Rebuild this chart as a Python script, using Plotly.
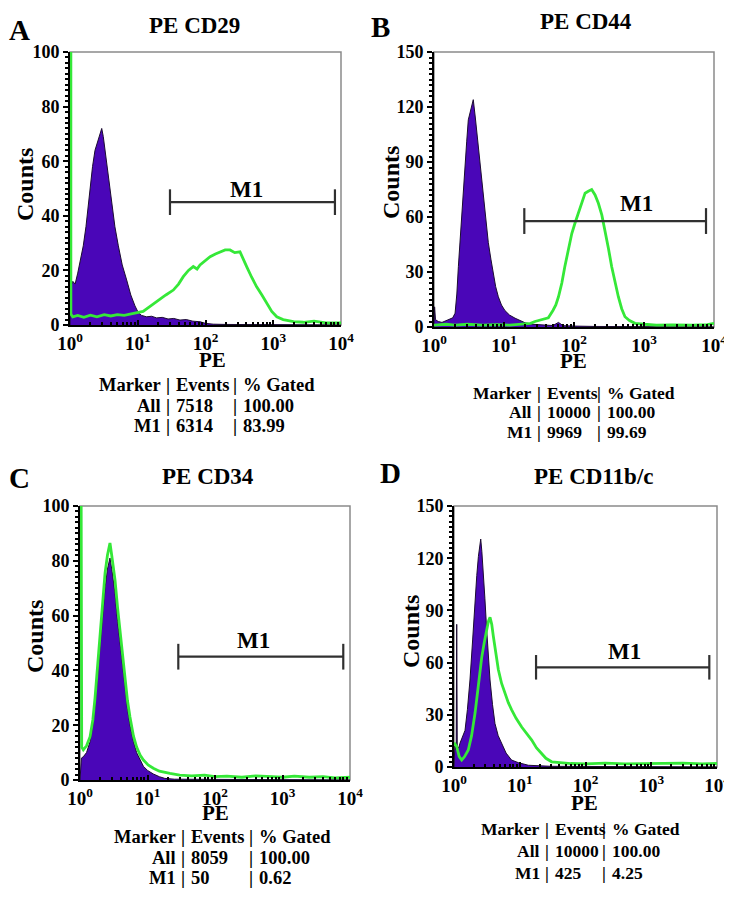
import plotly.graph_objects as go

W, H = 732, 916
OFF = 8  # the page body margin that the browser adds around the figure
FONT = "Liberation Serif"
PURPLE = "#4a06b8"
GREEN = "#35e838"

# ---------------- data ----------------
x_ticks = [1, 10, 100, 1000, 10000]
x_tick_labels = ["10<sup>0</sup>", "10<sup>1</sup>", "10<sup>2</sup>", "10<sup>3</sup>", "10<sup>4</sup>"]

# Panel A  PE CD29
pe_purple_A = [1.00, 1.02, 1.10, 1.19, 1.30, 1.42, 1.57, 1.72, 1.85, 1.97, 2.15, 2.34, 2.55, 2.75, 2.94,
               3.10, 3.25, 3.48, 3.75, 4.12, 4.6, 5.17, 5.9, 6.86, 7.9, 9.1, 10.2, 11.4, 13.5, 16, 19,
               23, 28, 34, 42, 52, 65, 83, 100, 130, 200, 10000]
cnt_purple_A = [0, 14, 16, 15, 19, 24, 29, 36, 44, 51, 58, 64, 67, 69, 72,
                69, 65, 60, 53, 45, 36, 29, 22, 16.5, 11, 7, 4.5, 3.5, 3.0, 3.2, 2.6,
                2.8, 2.2, 2.4, 1.8, 2.0, 1.4, 1.2, 0.6, 0.3, 0.2, 0.0]
pe_green_A = [1.03, 1.03, 1.1, 1.3, 1.6, 2.0, 2.5, 3.2, 4.0, 5.0, 6.3, 8.0, 10, 12, 14.5, 17.5, 21, 26,
              33.5, 40, 47, 56, 66, 75, 83, 100, 117, 140, 163, 195, 230, 270, 323, 360, 405, 480,
              569, 680, 800, 950, 1127, 1400, 1990, 2800, 4000, 6000, 10000]
cnt_green_A = [105, 4, 3, 3.5, 2.8, 3.6, 3.0, 3.8, 3.3, 3.8, 3.5, 4.0, 4.5, 5.0, 6.5, 8.0, 9.2, 11,
               12.8, 15, 17.7, 20, 21.4, 20.5, 22, 23.5, 25, 26, 26.8, 27.5, 27.5, 26.5, 26.8, 24, 21.4, 17.5,
               14, 11, 8, 5, 3, 2, 1.2, 1.0, 1.4, 0.8, 0.8]
gate_A = [29.9, 8140, 45]
stats_A = [["Marker", "Events", "% Gated"], ["All", "7518", "100.00"], ["M1", "6314", "83.99"]]

# Panel B  PE CD44
pe_purple_B = [1.0, 1.02, 1.05, 1.15, 1.3, 1.5, 1.7, 1.85, 2.0, 2.12, 2.23, 2.35, 2.48, 2.62, 2.77, 2.93,
               3.09, 3.3, 3.5, 3.64, 3.9, 4.3, 4.65, 5.07, 5.5, 5.97, 6.5, 7.04, 7.6, 8.3, 9.2, 10.3,
               12, 14.4, 17, 20, 25, 35, 50, 60, 70, 100, 200, 10000]
cnt_purple_B = [0, 11, 4, 3, 2.5, 3.5, 4, 5, 7.5, 18, 33, 47, 62, 76, 89, 101,
                113, 118, 122, 124, 114, 98, 83, 69, 57, 46, 37, 29.4, 22, 16.5, 12, 9,
                6.5, 4.8, 3.5, 2.3, 1.5, 1, 0.8, 2.5, 0.7, 0.5, 0.3, 0]
pe_green_B = [1.0, 1.5, 2, 3, 5, 8, 12, 18, 24, 27.7, 35, 43, 50, 55, 60, 67, 74, 83, 93, 104, 115, 130,
              144, 160, 179, 200, 223, 250, 277, 310, 345, 385, 430, 480, 535, 620, 745, 1000, 1500,
              2500, 5000, 8000, 10000]
cnt_green_B = [1, 1.5, 1, 1.5, 1, 1.3, 1, 1.5, 2, 3, 4, 5, 9, 12, 16.5, 24, 33, 42, 51, 57, 62, 68,
               73, 74, 75, 72, 67.5, 61, 53, 43, 33, 24, 16.5, 10, 5.6, 3.5, 2, 1.5, 1,
               1.2, 1, 1.3, 2]
gate_B = [19.5, 7690, 57.8]
stats_B = [["Marker", "Events", "% Gated"], ["All", "10000", "100.00"], ["M1", "9969", "99.69"]]

# Panel C  PE CD34
pe_purple_C = [1.0, 1.05, 1.12, 1.25, 1.41, 1.55, 1.67, 1.82, 1.98, 2.15, 2.35, 2.55, 2.78, 3.0, 3.3,
               3.6, 3.9, 4.25, 4.64, 5.05, 5.5, 6.2, 6.9, 7.8, 8.7, 10, 12.2, 15, 18, 25, 10000]
cnt_purple_C = [0, 8, 8.5, 10, 14, 20, 27, 38, 50, 61, 70, 77, 81, 76, 68,
                58, 50, 41, 33, 26, 20, 14, 10, 7, 5, 3.5, 2.2, 1.2, 0.6, 0.3, 0]
pe_green_C = [1.04, 1.04, 1.06, 1.12, 1.25, 1.41, 1.55, 1.67, 1.82, 1.98, 2.15, 2.35, 2.55, 2.78, 2.95,
              3.1, 3.3, 3.6, 3.9, 4.25, 4.64, 5.05, 5.5, 6.2, 6.9, 7.8, 8.7, 10.2, 12.2, 15, 21.5,
              30, 45, 70, 100, 150, 250, 400, 700, 1000, 1500, 2500, 4000, 6000, 10000]
cnt_green_C = [105, 14, 12, 11, 12.5, 15.8, 22, 30, 42, 55, 66, 75.5, 82, 86.5, 82,
               78, 73, 63, 55, 45, 36.5, 29, 23, 16, 12, 9, 7.3, 5.5, 4.3, 3.2, 2.4,
               1.8, 1.5, 1.8, 1.2, 1.4, 1.0, 1.5, 1.2, 1.0, 1.4, 1.0, 1.2, 0.8, 1.0]
gate_C = [28.6, 7950, 45]
stats_C = [["Marker", "Events", "% Gated"], ["All", "8059", "100.00"], ["M1", "50", "0.62"]]

# Panel D  PE CD11b/c
pe_purple_D = [1.0, 1.03, 1.08, 1.1, 1.12, 1.18, 1.23, 1.35, 1.47, 1.6, 1.75, 1.92, 2.09, 2.22, 2.35,
               2.45, 2.55, 2.65, 2.79, 2.95, 3.14, 3.33, 3.53, 3.85, 4.2, 4.7, 5.3, 6.2, 7.5, 9.5,
               13.5, 20, 30, 10000]
cnt_purple_D = [0, 12, 10, 82, 12, 11, 13.6, 17, 21, 33, 50, 73, 98, 110, 121,
                127, 131, 124, 113, 97, 79, 63, 50, 36, 25, 18, 13.6, 8, 4, 2.5,
                1, 0.6, 0.4, 0]
pe_green_D = [1.0, 1.1, 1.2, 1.31, 1.45, 1.65, 1.85, 2.09, 2.35, 2.64, 2.9, 3.14, 3.35, 3.53, 3.75,
              3.97, 4.3, 4.72, 5.3, 5.97, 6.7, 7.5, 8.8, 10.7, 12.8, 15.2, 18, 21.6, 25, 30.6, 40,
              60, 100, 200, 400, 800, 1500, 3000, 6000, 10000]
cnt_green_D = [14, 11.7, 6, 4, 6, 9.8, 18, 31, 47, 63, 72, 79, 84, 86, 82,
               75, 65, 56, 48, 42, 37, 33, 28, 23, 19, 15.5, 11, 7.9, 5, 3, 2.5,
               2, 1.8, 2.2, 1.8, 2.0, 1.8, 2.2, 1.8, 2.0]
gate_D = [17.7, 7640, 57.3]
stats_D = [["Marker", "Events", "% Gated"], ["All", "10000", "100.00"], ["M1", "425", "4.25"]]


def fx(px):
    return (px - OFF) / W


def fy(py):
    return 1 - (py - OFF) / H


# ---------------- layout configuration (pixel positions) ----------------
panels = [
    dict(letter="A", title="PE CD29", box=(70, 341, 52, 325), ymax=100, ydt=20,
         px=pe_purple_A, py=cnt_purple_A, gx=pe_green_A, gy=cnt_green_A, gate=gate_A,
         m1=(247, 189), letter_pos=(19, 30), title_pos=(194, 25), counts=(25, 185), pe=(213, 360),
         stats=stats_A, sy=(385, 406, 426), bars=(168, 235), ssize=18.5),
    dict(letter="B", title="PE CD44", box=(434, 714, 52, 327), ymax=150, ydt=30,
         px=pe_purple_B, py=cnt_purple_B, gx=pe_green_B, gy=cnt_green_B, gate=gate_B,
         m1=(636, 204), letter_pos=(381, 27), title_pos=(586, 21), counts=(391, 183), pe=(573, 361),
         stats=stats_B, sy=(393, 412, 432), bars=(539, 599), ssize=17.5),
    dict(letter="C", title="PE CD34", box=(80, 350, 506, 780), ymax=100, ydt=20,
         px=pe_purple_C, py=cnt_purple_C, gx=pe_green_C, gy=cnt_green_C, gate=gate_C,
         m1=(253, 640), letter_pos=(19, 478), title_pos=(208, 477), counts=(35, 637), pe=(215, 813),
         stats=stats_C, sy=(837, 858, 878), bars=(183, 251), ssize=18.5),
    dict(letter="D", title="PE CD11b/c", box=(454, 717, 506, 767), ymax=150, ydt=30,
         px=pe_purple_D, py=cnt_purple_D, gx=pe_green_D, gy=cnt_green_D, gate=gate_D,
         m1=(624, 651), letter_pos=(390, 473), title_pos=(593, 477), counts=(411, 632), pe=(584, 803),
         stats=stats_D, sy=(829, 851, 873), bars=(547, 604), ssize=17.5),
]

fig = go.Figure()
annotations = []
shapes = []
minor_x = [m * 10 ** k for k in range(4) for m in range(2, 10)]
xtickfont = dict(family=FONT, size=19, color="black", weight="bold")
ytickfont = dict(family=FONT, size=18, color="black", weight="bold")

for i, p in enumerate(panels):
    n = "" if i == 0 else str(i + 1)
    xa, ya = "x" + n, "y" + n
    l, r, t, b = p["box"]

    fig.add_trace(go.Scatter(x=p["px"], y=p["py"], mode="lines", fill="tozeroy", fillcolor=PURPLE,
                             line=dict(color="#1b0b30", width=1), xaxis=xa, yaxis=ya, hoverinfo="skip"))
    fig.add_trace(go.Scatter(x=p["gx"], y=p["gy"], mode="lines",
                             line=dict(color=GREEN, width=2.8), xaxis=xa, yaxis=ya, hoverinfo="skip"))

    g0, g1, gyv = p["gate"]
    hh = p["ymax"] * 0.047
    fig.add_trace(go.Scatter(x=[g0, g1, None, g0, g0, None, g1, g1],
                             y=[gyv, gyv, None, gyv - hh, gyv + hh, None, gyv - hh, gyv + hh],
                             mode="lines", line=dict(color="#303030", width=2.2), xaxis=xa, yaxis=ya,
                             hoverinfo="skip"))

    fig.layout["xaxis" + n] = dict(
        domain=[fx(l), fx(r)], anchor=ya, type="log", range=[0, 4], automargin=False,
        tickmode="array", tickvals=x_ticks, ticktext=x_tick_labels,
        ticks="inside", ticklen=5, tickwidth=1.5, tickcolor="black",
        minor=dict(tickmode="array", tickvals=minor_x, ticks="inside", ticklen=3, tickcolor="black"),
        showline=True, linecolor="black", linewidth=2, showgrid=False, zeroline=False,
        tickfont=xtickfont, fixedrange=True)
    fig.layout["yaxis" + n] = dict(
        domain=[fy(b), fy(t)], anchor=xa, range=[0, p["ymax"]], automargin=False,
        tickmode="linear", tick0=0, dtick=p["ydt"],
        ticks="outside", ticklen=5, tickwidth=1.5, tickcolor="black",
        minor=dict(dtick=p["ydt"] / 10, ticks="outside", ticklen=3, tickcolor="black"),
        showline=True, linecolor="black", linewidth=2, showgrid=False, zeroline=False,
        tickfont=ytickfont, fixedrange=True)

    shapes.append(dict(type="rect", xref=xa + " domain", yref=ya + " domain", x0=0, x1=1, y0=0, y1=1,
                       line=dict(color="#8a8a8a", width=1.5), layer="below"))

    def ann(text, xpx, ypx, size, xanchor="center", angle=0):
        annotations.append(dict(text=text, x=fx(xpx), y=fy(ypx), xref="paper", yref="paper",
                                showarrow=False, xanchor=xanchor, yanchor="middle", textangle=angle,
                                font=dict(family=FONT, size=size, color="black", weight="bold")))

    ann(p["letter"], p["letter_pos"][0], p["letter_pos"][1], 29)
    ann(p["title"], p["title_pos"][0], p["title_pos"][1], 23)
    ann("Counts", p["counts"][0], p["counts"][1], 24, angle=-90)
    ann("PE", p["pe"][0], p["pe"][1], 21)
    ann("M1", p["m1"][0], p["m1"][1], 23)

    b1, b2 = p["bars"]
    s = p["ssize"]
    for row, yy in zip(p["stats"], p["sy"]):
        ann(row[0], b1 - 5, yy, s, xanchor="right")
        ann("|", b1, yy, s)
        ann(row[1], b1 + 6, yy, s, xanchor="left")
        ann("|", b2, yy, s)
        ann(row[2], b2 + 6, yy, s, xanchor="left")

fig.update_layout(width=W, height=H, autosize=False,
                  margin=dict(l=0, r=0, t=0, b=0, pad=0, autoexpand=False),
                  paper_bgcolor="white", plot_bgcolor="white", showlegend=False,
                  annotations=annotations, shapes=shapes)

fig.write_html("out.html")
